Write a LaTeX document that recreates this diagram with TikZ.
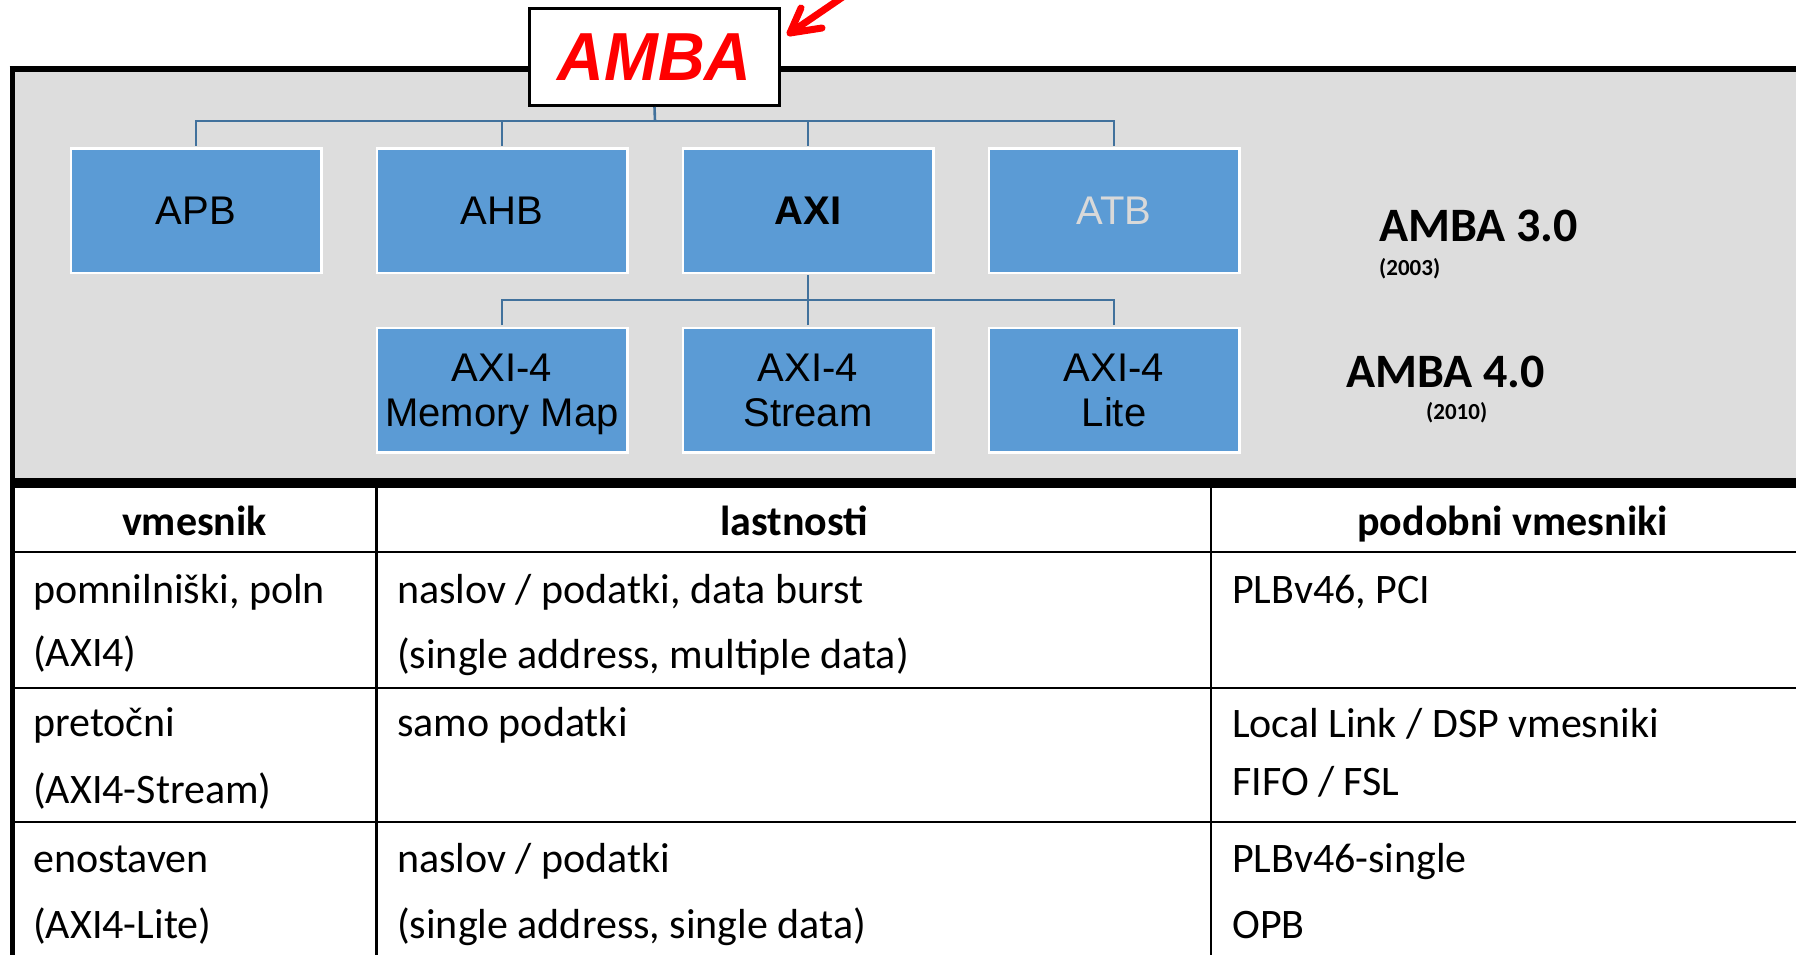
\documentclass[tikz,border=0pt]{standalone}
\usepackage{fontspec}
\setmainfont{Carlito}
\newfontfamily\arialf{Liberation Sans}
\newfontfamily\arialtitle[FakeStretch=0.95]{Liberation Sans}
\definecolor{panelgray}{RGB}{221,221,221}
\definecolor{boxblue}{RGB}{91,155,213}
\definecolor{connblue}{RGB}{65,113,156}
\definecolor{atbgray}{RGB}{217,217,217}
\definecolor{ambared}{RGB}{255,0,0}
\begin{document}
\begin{tikzpicture}[x=1pt,y=-1pt,
  busbox/.style={draw=white,line width=2.5pt,fill=boxblue,minimum width=250.5pt,minimum height=124.5pt,
    inner sep=0pt,text depth=0pt,align=center,font=\arialf\fontsize{40}{45.5}\selectfont},
  conn/.style={draw=connblue,line width=2.6pt},
  cell/.style={anchor=base west,inner sep=0pt,font=\fontsize{42}{50}\selectfont},
  head/.style={anchor=base,inner sep=0pt,font=\bfseries\fontsize{42}{50}\selectfont},
  grid/.style={line width=2.5pt,draw=black},
  ver/.style={anchor=base west,inner sep=0pt,font=\bfseries\fontsize{48}{56}\selectfont},
  year/.style={anchor=base west,inner sep=0pt,font=\bfseries\fontsize{23}{28}\selectfont}]
\useasboundingbox (0,0) rectangle (1796,954);
\clip (0,0) rectangle (1796,954);
\fill[white] (0,0) rectangle (1796,954);
% grey panel and frame
\fill[panelgray] (12,69) rectangle (1800,483);
\draw[line width=6pt] (9.5,69) -- (1800,69);
\draw[line width=10pt] (10,483) -- (1800,483);
\draw[line width=5pt] (12.5,66) -- (12.5,960);
% table grid
\draw[grid] (12,552) -- (1800,552);
\draw[grid] (12,688) -- (1800,688);
\draw[grid] (12,822) -- (1800,822);
\draw[grid] (376.5,488) -- (376.5,960);
\draw[grid] (1211,488) -- (1211,960);
% AMBA title box
\node[draw=black,line width=3pt,fill=white,minimum width=250pt,minimum height=97pt,inner sep=0pt,
  text=ambared,font=\arialtitle\bfseries\itshape\fontsize{68}{74}\selectfont] (amba) at (654.5,57) {AMBA};
% red arrow
\coordinate (arrtail) at (872,-23);
\coordinate (arrtip) at (790,33);
\coordinate (barbA) at (801,8);
\coordinate (barbB) at (822,28);
\draw[ambared,line width=7pt,line cap=round,line join=round] (arrtail) -- (arrtip);
\draw[ambared,line width=7pt,line cap=round,line join=round] (barbA) -- (arrtip) -- (barbB);
% bus boxes
\node[busbox] (apb) at (196,210.5) {APB};
\node[busbox] (ahb) at (502,210.5) {AHB};
\node[busbox,font=\arialf\bfseries\fontsize{40}{45.5}\selectfont] (axi) at (808,210.5) {AXI};
\node[busbox,text=atbgray] (atb) at (1114,210.5) {ATB};
\node[busbox] (mm) at (502,390) {AXI-4\\Memory Map};
\node[busbox] (stream) at (808,390) {AXI-4\\Stream};
\node[busbox] (lite) at (1114,390) {AXI-4\\Lite};
% connectors
\coordinate (j1) at (655,121);
\coordinate (j2) at (808,300);
\draw[conn] (amba.south) -- (j1);
\draw[conn,shorten <=1.3pt,shorten >=1.3pt] (apb.north) |- (j1) -| (atb.north);
\draw[conn,shorten <=1.3pt] (ahb.north) |- (j1);
\draw[conn,shorten <=1.3pt] (axi.north) -- (axi.north |- j1);
\draw[conn,shorten <=1.3pt] (axi.south) -- (j2);
\draw[conn,shorten <=1.3pt,shorten >=1.3pt] (mm.north) |- (j2) -| (lite.north);
\draw[conn,shorten <=1.3pt] (stream.north) -- (j2);
% version labels
\node[ver] (v3) at (1379,241.5) {AMBA 3.0};
\node[year] (y3) at (1379,275) {(2003)};
\node[ver] (v4) at (1346,387) {AMBA 4.0};
\node[year] (y4) at (1426,419) {(2010)};
% table header
\node[head] (h1) at (194.5,535) {vmesnik};
\node[head] (h2) at (794,535) {lastnosti};
\node[head] (h3) at (1512.5,535) {podobni vmesniki};
% row 1
\node[cell] (a1) at (33,603) {pomnilniški, poln};
\node[cell] (a2) at (33,666) {(AXI4)};
\node[cell] (b1) at (397,603) {naslov / podatki, data burst};
\node[cell] (b2) at (397,668) {(single address, multiple data)};
\node[cell] (c1) at (1232,603) {PLBv46, PCI};
% row 2
\node[cell] (a3) at (33,736) {pretočni};
\node[cell] (a4) at (33,803) {(AXI4-Stream)};
\node[cell] (b3) at (397,736) {samo podatki};
\node[cell] (c3) at (1232,737) {Local Link / DSP vmesniki};
\node[cell] (c4) at (1232,795) {FIFO / FSL};
% row 3
\node[cell] (a5) at (33,872) {enostaven};
\node[cell] (a6) at (33,938) {(AXI4-Lite)};
\node[cell] (b5) at (397,872) {naslov / podatki};
\node[cell] (b6) at (397,938) {(single address, single data)};
\node[cell] (c5) at (1232,872) {PLBv46-single};
\node[cell] (c6) at (1232,938) {OPB};
\end{tikzpicture}
\end{document}
